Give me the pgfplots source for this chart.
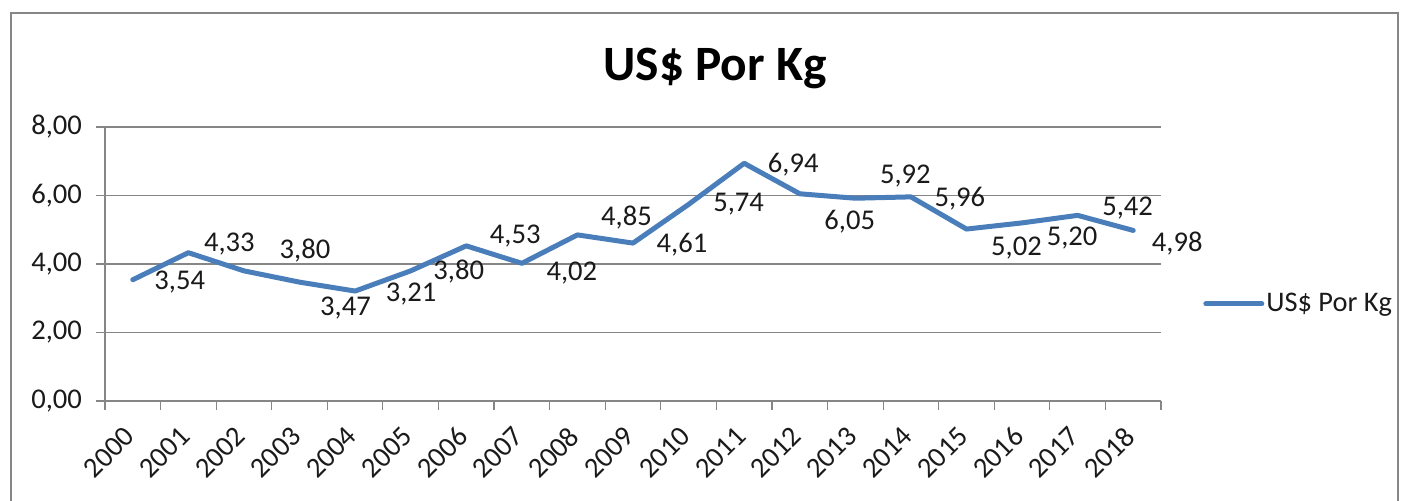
\documentclass[border=0pt]{standalone}
\usepackage{fontspec}
\setmainfont{Carlito}
\usepackage{pgfplots}
\pgfplotsset{compat=1.18}
\usepackage{pgfplotstable}

\definecolor{xlblue}{HTML}{4A7EBB}
\definecolor{axgray}{HTML}{868686}
\definecolor{txt}{HTML}{1A1A1A}

% year index, price, label offset (pt)
\pgfplotstableread{
x  y    dx   dy
0  3.54 23.5 -1
1  4.33 20.5 4.5
2  3.80 30.5 10
3  3.47 23   -13
4  3.21 28   -1.5
5  3.80 24   -0.5
6  4.53 24.5 5
7  4.02 25   -5
8  4.85 24.5 8.5
9  4.61 24.5 -1
10 5.74 25   0
11 6.94 24.5 -0.5
12 6.05 25   -14
13 5.92 25   11
14 5.96 24.5 -1
15 5.02 25   -9.5
16 5.20 25   -7.5
17 5.42 25   3.5
18 4.98 22   -6.5
}\prices

\begin{document}
\begin{tikzpicture}
\useasboundingbox (0,0) rectangle (704pt,-250.5pt);
\draw[axgray, line width=1pt] (5.5pt,-6.5pt) rectangle (699pt,-262pt);
\node[font=\fontsize{24.7}{28}\selectfont\bfseries, text=black] at (357.5pt,-34pt) {US\$ Por Kg};
\begin{axis}[
  at={(52.5pt,-200.5pt)}, anchor=south west,
  scale only axis, width=528pt, height=137pt,
  xmin=-0.5, xmax=18.5, ymin=0, ymax=8,
  xtick={-0.5,0.5,...,18.5},
  x tick label as interval,
  xticklabels={2000,2001,2002,2003,2004,2005,2006,2007,2008,2009,2010,2011,2012,2013,2014,2015,2016,2017,2018},
  ytick={0,2,...,8},
  axis x line*=bottom, axis y line*=left,
  axis line style={-, axgray, line width=0.6pt},
  tick align=outside, major tick length=4.5pt,
  tick style={axgray, line width=0.6pt},
  ymajorgrids, grid style={axgray, line width=0.6pt},
  tick label style={font=\fontsize{14.3}{17}\selectfont, text=txt},
  xticklabel style={xshift=0.8pt, yshift=-8.5pt, rotate=45, anchor=east},
  yticklabel style={xshift=-3.5pt, /pgf/number format/.cd, fixed, fixed zerofill, precision=2, use comma, assume math mode=true},
  legend style={at={(axis description cs:1.034,0.354)}, anchor=west, draw=none, fill=none,
    font=\fontsize{14.2}{17}\selectfont, text=txt, nodes={inner sep=1pt}},
  legend image code/.code={\draw[#1] (0pt,0pt) -- (28pt,0pt);},
]
\addplot[xlblue, line width=2.5pt, line join=round, line cap=round, mark=none,
  visualization depends on={\thisrow{dx} \as \dx},
  visualization depends on={\thisrow{dy} \as \dy},
  nodes near coords={\pgfmathprintnumber[fixed, fixed zerofill, precision=2, use comma, assume math mode=true]{\pgfplotspointmeta}},
  every node near coord/.append style={anchor=center, xshift=\dx pt, yshift=\dy pt,
    font=\fontsize{14.3}{17}\selectfont, text=txt},
] table[x=x, y=y] {\prices};
\addlegendentry{US\$ Por Kg}
\end{axis}
\end{tikzpicture}
\end{document}
